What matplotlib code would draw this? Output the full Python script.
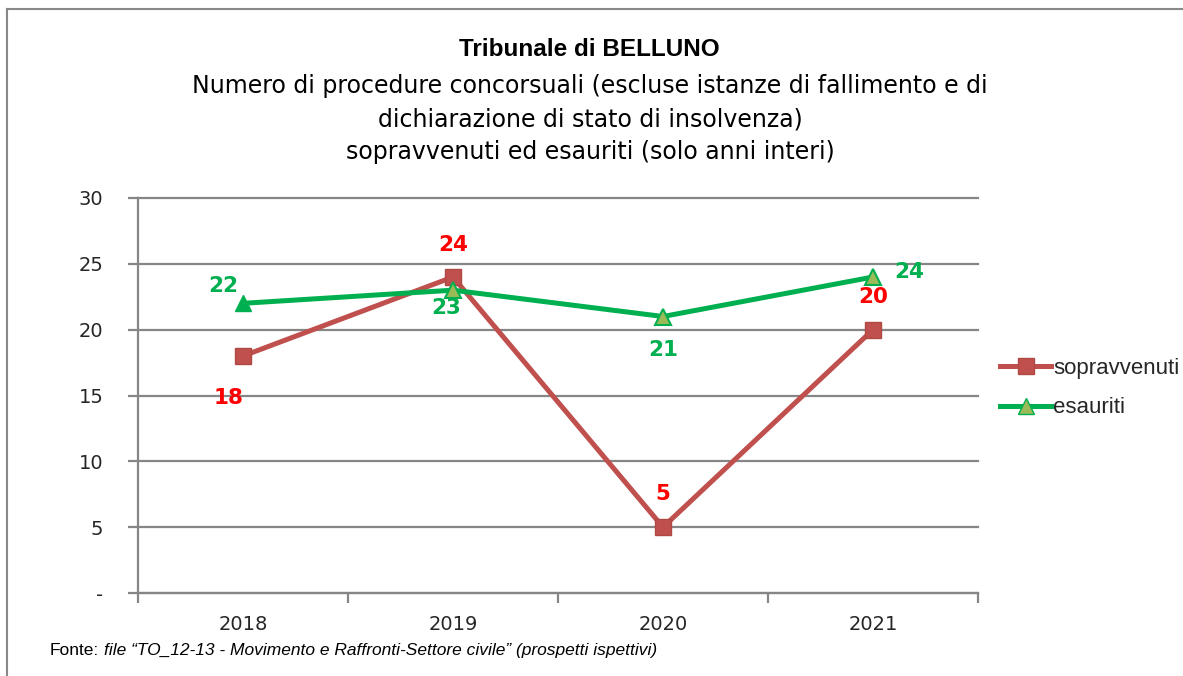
import matplotlib
matplotlib.use("Agg")
import matplotlib.pyplot as plt
from matplotlib.lines import Line2D
import numpy as np

years = ["2018", "2019", "2020", "2021"]
sopravvenuti = [18, 24, 5, 20]
esauriti = [22, 23, 21, 24]
y_ticks = [0, 5, 10, 15, 20, 25, 30]
y_tick_labels = ["-", "5", "10", "15", "20", "25", "30"]

RED = "#C0504D"
GREEN = "#00B050"
OLIVE = "#9BBB59"
GRID = "#868686"

fig = plt.figure(figsize=(11.83, 6.76), dpi=100)
ax = fig.add_axes([138/1183, 1-593/676, (978-138)/1183, (593-198)/676])

x = np.arange(len(years))
ax.plot(x, sopravvenuti, color=RED, lw=3.6, marker="s", markersize=12,
        markerfacecolor=RED, markeredgecolor="#B04844", zorder=3)
ax.plot(x, esauriti, color=GREEN, lw=3.6, zorder=4)
ax.plot(x[:1], esauriti[:1], ls="none", marker="^", markersize=11,
        markerfacecolor=GREEN, markeredgecolor=GREEN, zorder=5)
ax.plot(x[1:], esauriti[1:], ls="none", marker="^", markersize=11,
        markerfacecolor=OLIVE, markeredgecolor=GREEN, markeredgewidth=1.5, zorder=5)

ax.set_xlim(-0.5, len(years) - 0.5)
ax.set_ylim(0, 30)
ax.set_yticks(y_ticks)
ax.set_yticklabels(y_tick_labels)
ax.set_xticks(x)
ax.set_xticklabels(years)
ax.set_xticks(np.arange(-0.5, len(years), 1), minor=True)
ax.tick_params(axis="x", which="major", length=0, pad=16, labelsize=14, labelcolor="#262626")
ax.tick_params(axis="x", which="minor", length=7, width=1.6, color=GRID)
ax.tick_params(axis="y", length=7, width=1.6, color=GRID, pad=18, labelsize=14, labelcolor="#262626")

ax.grid(axis="y", color=GRID, lw=1.6)
for gl in ax.yaxis.get_gridlines():
    gl.set_clip_on(False)
ax.set_axisbelow(True)
for s in ["top", "right"]:
    ax.spines[s].set_visible(False)
ax.spines["left"].set_color(GRID)
ax.spines["left"].set_linewidth(1.6)
ax.spines["bottom"].set_color(GRID)
ax.spines["bottom"].set_linewidth(1.6)

lab_kw = dict(textcoords="offset pixels", ha="center", va="center",
              fontsize=15.5, fontweight="bold", family="DejaVu Sans")
sop_off = [(-14, -42), (0, 32), (0, 33), (0, 33)]
esa_off = [(-20, 17), (-7, -18), (0, -34), (36, 5)]
for i in range(len(years)):
    ax.annotate(str(sopravvenuti[i]), (x[i], sopravvenuti[i]), xytext=sop_off[i],
                color="#FF0000", **lab_kw)
    ax.annotate(str(esauriti[i]), (x[i], esauriti[i]), xytext=esa_off[i],
                color=GREEN, **lab_kw)

handles = [
    Line2D([], [], color=RED, lw=3.6, marker="s", markersize=12,
           markerfacecolor=RED, markeredgecolor="#B04844"),
    Line2D([], [], color=GREEN, lw=3.6, marker="^", markersize=11,
           markerfacecolor=OLIVE, markeredgecolor=GREEN),
]
leg = fig.legend(handles, ["sopravvenuti", "esauriti"], loc="center left",
                 bbox_to_anchor=(980/1183, 1-388/676), frameon=False,
                 handlelength=2.3, handletextpad=0.1, labelspacing=0.85,
                 prop={"family": "Liberation Sans", "size": 16})
for t in leg.get_texts():
    t.set_color("#262626")

fig.text(589/1183, 1-50/676, "Tribunale di BELLUNO", ha="center", va="center",
         fontsize=17.5, fontweight="bold", family="Liberation Sans")
sub = ["Numero di procedure concorsuali (escluse istanze di fallimento e di",
       "dichiarazione di stato di insolvenza)",
       "sopravvenuti ed esauriti (solo anni interi)"]
for i, s in enumerate(sub):
    fig.text(590/1183, 1-(86 + 33*i)/676, s, ha="center", va="center",
             fontsize=17, family="DejaVu Sans", color="#000000")

t1 = fig.text(50/1183, 1-655/676, "Fonte:", ha="left", va="baseline", fontsize=12.5,
              family="Liberation Sans")
fig.canvas.draw()
bb = t1.get_window_extent(renderer=fig.canvas.get_renderer())
fig.text((bb.x1 + 5)/1183, 1-655/676,
         "file \u201cTO_12-13 - Movimento e Raffronti-Settore civile\u201d (prospetti ispettivi)",
         ha="left", va="baseline", fontsize=12.5, family="Liberation Sans", style="italic")

fig.add_artist(Line2D([7/1183, 7/1183], [0, 1-9/676], color="#888888", lw=1.5))
fig.add_artist(Line2D([7/1183, 1], [1-9/676, 1-9/676], color="#888888", lw=1.5))

fig.savefig("out.png", dpi=100)
